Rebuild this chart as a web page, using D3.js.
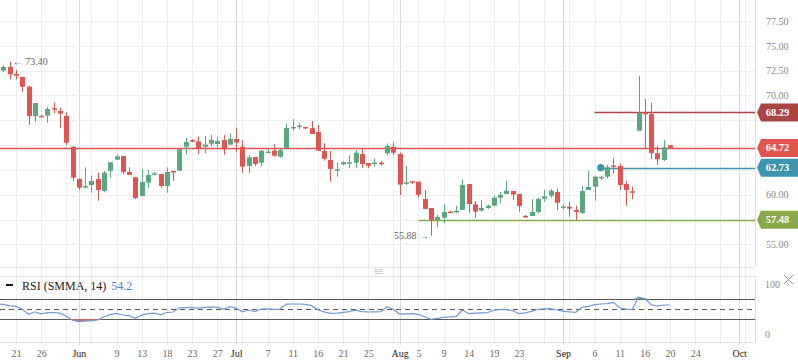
<!DOCTYPE html>
<html>
<head>
<meta charset="utf-8">
<script src="https://cdn.jsdelivr.net/npm/d3@7"></script>
<style>
  body { margin: 0; background: #fff; }
  svg { display: block; font-family: "Liberation Serif", serif; }
</style>
</head>
<body>
<svg id="chart" width="798" height="363"></svg>
<script>
// trading slots (2019), Sunday sessions included
var dates = [
  "05-17","05-19","05-20","05-21","05-22","05-23","05-24","05-26","05-27","05-28","05-29","05-30","05-31",
  "06-02","06-03","06-04","06-05","06-06","06-07","06-09","06-10","06-11","06-12","06-13","06-14","06-16","06-17","06-18","06-19","06-20","06-21","06-23","06-24","06-25","06-26","06-27","06-28","06-30",
  "07-01","07-02","07-03","07-04","07-05","07-07","07-08","07-09","07-10","07-11","07-12","07-14","07-15","07-16","07-17","07-18","07-19","07-21","07-22","07-23","07-24","07-25","07-26","07-29","07-30","07-31",
  "08-01","08-02","08-04","08-05","08-06","08-07","08-08","08-09","08-11","08-12","08-13","08-14","08-15","08-16","08-18","08-19","08-20","08-21","08-22","08-23","08-25","08-26","08-27","08-28","08-29","08-30",
  "09-01","09-02","09-03","09-04","09-05","09-06","09-08","09-09","09-10","09-11","09-12","09-13","09-15","09-16","09-17","09-18","09-19","09-20"
];
// empty slots to the right of the last candle
var futureDates = ["09-21","09-22","09-23","09-24","09-25","09-26","09-27","09-28","09-29","09-30","10-01","10-02","10-03"];

var opens = [
  72.74,72.5,72.87,72.16,71.86,70.88,67.93,67.95,67.96,68.72,68.44,67.93,64.84,
  61.59,60.8,60.98,61.59,60.38,62.42,63.53,63.9,62.3,61.76,59.88,61.22,62.1,62.1,60.88,62.4,62.42,64.84,65.5,65.38,64.84,65.14,65.11,65.52,65.05,
  65.62,64.84,62.9,63.8,63.23,64.3,64.44,63.83,64.71,66.83,66.9,66.83,66.7,66.32,64.41,63.5,62.5,63.07,63.2,63.23,64.1,63.2,63.2,63.23,64.18,64.84,
  64.1,61.15,61.36,61.32,59.57,58.67,57.46,57.7,58.3,58.33,58.47,61.08,59.04,58.4,58.67,58.9,59.7,60.08,60.38,60.08,57.87,57.86,58.27,59.6,59.91,60.28,
  58.8,58.8,58.47,58.17,60.48,60.81,61.65,61.82,62.95,62.9,61.08,60.35,66.45,68.3,68.13,64.18,63.5,64.99
];
var highs = [
  72.9,73.07,73.40,72.57,71.9,70.98,69.24,68.05,68.87,69.3,68.77,68.3,64.9,
  61.66,62.77,61.92,62.22,62.4,63.27,64.07,63.9,62.77,61.76,62.57,62.5,62.3,62.1,62.77,62.4,64.58,65.72,65.6,65.85,65.92,66.05,65.85,66.0,66.15,
  66.75,65.49,64.0,63.8,64.5,64.6,65.1,64.67,67.13,67.6,67.2,66.83,67.43,67.03,65.18,64.41,63.27,63.37,63.97,64.5,64.67,63.2,63.67,63.4,65.18,65.25,
  64.24,62.9,61.36,61.32,60.48,58.67,57.96,59.04,58.4,58.87,61.56,61.08,59.37,59.44,59.0,59.9,60.3,61.42,60.38,60.08,57.97,59.57,59.7,60.48,60.58,60.58,
  59.05,59.3,58.9,60.88,62.4,61.88,61.9,63.0,63.67,63.17,61.42,60.81,71.96,69.65,69.27,64.91,65.52,64.99
];
var lows = [
  72.1,72.33,71.63,71.63,70.38,67.03,67.36,67.85,67.25,68.2,66.7,65.01,61.39,
  60.48,60.65,60.21,59.4,60.25,61.72,63.53,62.06,62.0,59.57,59.8,60.71,61.95,60.7,60.21,61.4,62.42,64.08,65.3,64.08,64.18,64.9,64.79,64.04,65.05,
  64.28,62.22,62.16,62.9,62.9,64.2,63.83,63.73,64.71,66.45,66.6,66.6,66.12,64.44,63.43,61.32,61.82,62.97,62.67,62.67,62.67,62.67,62.83,62.95,64.0,64.0,
  59.98,60.98,61.08,59.75,58.57,55.88,56.72,57.13,58.2,58.13,58.47,58.2,57.7,58.3,58.57,58.8,59.14,60.08,59.47,58.3,57.67,57.86,58.1,59.3,59.7,58.47,
  58.5,57.8,57.45,58.07,60.48,59.4,61.5,61.65,62.17,60.48,58.87,59.54,66.45,64.68,63.57,62.99,63.4,64.6
];
var closes = [
  72.24,72.87,72.13,71.99,70.88,67.93,69.24,67.9,68.64,68.66,68.17,65.24,61.72,
  60.71,60.87,61.39,60.48,62.22,63.27,63.87,62.3,62.0,59.68,61.29,61.99,62.15,60.88,62.3,62.23,64.58,65.32,65.4,64.68,65.05,65.52,65.42,64.58,65.62,
  65.25,62.83,63.77,63.1,64.44,64.35,63.93,64.5,66.72,66.83,66.97,66.77,66.12,64.44,63.63,62.6,62.57,63.27,63.27,64.24,63.1,62.93,63.25,63.07,64.91,64.24,
  61.02,61.25,61.26,60.0,58.57,57.46,57.76,58.27,58.25,58.37,60.98,59.07,58.3,58.67,58.9,59.7,59.98,60.41,60.01,58.87,57.74,58.27,59.57,59.84,60.41,59.2,
  58.83,58.6,58.27,60.38,60.78,61.82,61.8,62.77,62.85,60.98,60.48,60.21,68.27,68.1,64.18,63.57,64.78,64.72
];
var rsi = [
  61,60,57,56,50,40,45,41,43.5,43.6,42.3,36,28,
  25.3,26.5,27.5,28.6,35,39.5,42,38.6,37,32,38.5,41.5,42.3,39,44,44.6,53,53.3,53.3,52.3,54,55,54,50.5,55.3,
  52.5,45,48.6,45.3,50.5,51,50,50.5,60.5,60.6,60.6,59.7,57.3,49,45,42,42.5,44,45.2,48.3,45.5,44.6,45,45.3,55,50,
  40.5,41,41.3,39.5,35,30,32,34,34.8,36,48.6,41.3,42.2,42.8,43.5,48,49.8,49.3,47,41.3,42.8,46,50,51,51.5,48.6,
  46.5,45,44,54,56,59.5,60.6,61.5,63.8,53,50.3,50,74,71.5,59,56.3,58.6,58.6
];
var rsiLast = "54.2";

var priceTicks = [55, 57.5, 60, 62.5, 65, 67.5, 70, 72.5, 75, 77.5];
var rsiTicks = [0, 100];
var rsiBands = [30, 50, 70];
var tickDates = ["05-21","05-26","06-02","06-09","06-13","06-18","06-23","06-27","07-01","07-07","07-11","07-16","07-21","07-25",
  "08-01","08-05","08-09","08-14","08-19","08-23","09-01","09-06","09-11","09-16","09-20","09-24","10-01"];
var tickLabels = ["21","26","Jun","9","13","18","23","27","Jul","7","11","16","21","25",
  "Aug","5","9","14","19","23","Sep","6","11","16","20","24","Oct"];
var monthStarts = ["06-02","07-01","08-01","09-01","10-01"];

// horizontal levels and where they start (null = whole width)
var levelValues = [68.29, 64.72, 62.73, 57.48];
var levelStarts = ["09-06", null, "09-08", "08-05"];
var levelColors = ["#a94542", "#e25450", "#3f95ae", "#8aa94a"];
var highNote = { date: "05-20", value: 73.40 };
var lowNote = { date: "08-07", value: 55.88 };

var slots = dates.concat(futureDates);
var W = 755, mainBottom = 267, rsiTop = 276, rsiBottom = 342, axisY = 345;

var x = d3.scalePoint().domain(slots).range([-2.87, 751.75]);
var y = d3.scaleLinear().domain([55, 77.5]).range([244.4, 21]);
var yr = d3.scaleLinear().domain([0, 100]).range([334.3, 284.3]);

var svg = d3.select('svg#chart');
var defs = svg.append('defs');
defs.append('clipPath').attr('id', 'clipMain').append('rect')
  .attr('x', 0).attr('y', 0).attr('width', W).attr('height', mainBottom);
defs.append('clipPath').attr('id', 'clipRsi').append('rect')
  .attr('x', 0).attr('y', rsiTop).attr('width', W).attr('height', rsiBottom - rsiTop);

var gridIdx = slots.filter((d, i) => i % 4 == 3);

// vertical grid
svg.append('g').selectAll('line').data(gridIdx).enter().append('line')
  .attr('x1', d => Math.round(x(d)) + 0.5).attr('x2', d => Math.round(x(d)) + 0.5)
  .attr('y1', 0).attr('y2', axisY)
  .attr('stroke', '#eceef1').attr('stroke-width', 1);
svg.append('g').selectAll('line').data(monthStarts).enter().append('line')
  .attr('x1', d => Math.round(x(d)) + 0.5).attr('x2', d => Math.round(x(d)) + 0.5)
  .attr('y1', 0).attr('y2', axisY)
  .attr('stroke', '#d9dbde').attr('stroke-width', 1);

// horizontal grid
svg.append('g').selectAll('line').data(priceTicks).enter().append('line')
  .attr('x1', 0).attr('x2', W)
  .attr('y1', d => Math.round(y(d)) + 0.5).attr('y2', d => Math.round(y(d)) + 0.5)
  .attr('stroke', '#eceef1');

// panel borders
[mainBottom, rsiTop, rsiBottom].forEach(function(v) {
  svg.append('line').attr('x1', 0).attr('x2', W).attr('y1', v + 0.5).attr('y2', v + 0.5)
    .attr('stroke', '#e0e2e5');
});
svg.append('line').attr('x1', W + 0.5).attr('x2', W + 0.5).attr('y1', 0).attr('y2', mainBottom)
  .attr('stroke', '#dcdee1');
svg.append('line').attr('x1', W + 0.5).attr('x2', W + 0.5).attr('y1', rsiTop).attr('y2', rsiBottom)
  .attr('stroke', '#dcdee1');

// splitter handle
[269, 271, 273].forEach(function(v) {
  svg.append('line').attr('x1', 374).attr('x2', 383).attr('y1', v + 0.5).attr('y2', v + 0.5)
    .attr('stroke', '#cfd1d4');
});

var main = svg.append('g').attr('clip-path', 'url(#clipMain)');

// level lines
levelValues.forEach(function(v, i) {
  var x0 = levelStarts[i] ? x(levelStarts[i]) : 0;
  main.append('line')
    .attr('x1', x0).attr('x2', W)
    .attr('y1', Math.round(y(v)) + 0.5).attr('y2', Math.round(y(v)) + 0.5)
    .attr('stroke', levelColors[i]).attr('stroke-width', 1.3);
});
main.append('circle')
  .attr('cx', x(levelStarts[2])).attr('cy', y(levelValues[2])).attr('r', 3.6)
  .attr('fill', '#3f95ae');

// candles
var candles = dates.map((d, i) => ({ date: d, o: opens[i], h: highs[i], l: lows[i], c: closes[i] }));
function candleColor(d) {
  if (d.c > d.o) return '#5aa87f';
  if (d.c < d.o) return '#e2544f';
  return '#8c8c8c';
}
var gs = main.selectAll('g.candle').data(candles).enter().append('g').attr('class', 'candle');
gs.append('line')
  .attr('x1', d => Math.round(x(d.date)) + 0.5).attr('x2', d => Math.round(x(d.date)) + 0.5)
  .attr('y1', d => y(d.h)).attr('y2', d => y(d.l))
  .attr('stroke', candleColor).attr('stroke-width', 1);
gs.append('rect')
  .attr('x', d => Math.round(x(d.date)) - 2)
  .attr('y', d => Math.min(y(d.o), y(d.c)))
  .attr('width', 5)
  .attr('height', d => Math.max(1.5, Math.abs(y(d.o) - y(d.c))))
  .attr('fill', candleColor);

// high / low notes
main.append('text')
  .attr('x', x(highNote.date) + 3).attr('y', y(highNote.value) + 3.5)
  .attr('font-size', 10).attr('fill', '#666')
  .text('\u2190 ' + highNote.value.toFixed(2));
main.append('text')
  .attr('x', x(lowNote.date) - 2).attr('y', y(lowNote.value) + 3.5)
  .attr('text-anchor', 'end')
  .attr('font-size', 10).attr('fill', '#666')
  .text(lowNote.value.toFixed(2) + ' \u2192');

// price axis: ticks hidden behind a level tag are left out
var visibleTicks = priceTicks.filter(t => levelValues.every(v => Math.abs(y(t) - y(v)) > 10));
var pAxis = svg.append('g').attr('transform', 'translate(' + W + ',0)')
  .call(d3.axisRight(y).tickValues(visibleTicks).tickSize(0).tickPadding(11).tickFormat(d3.format('.2f')));
pAxis.select('.domain').remove();
pAxis.selectAll('text').attr('font-family', '"Liberation Serif", serif').attr('font-size', 10).attr('fill', '#8a8a8a');

// level tags on the axis
levelValues.forEach(function(v, i) {
  var cy = y(v);
  svg.append('path')
    .attr('d', 'M' + (W + 2) + ',' + cy + 'L' + (W + 6) + ',' + (cy - 9) + 'L798,' + (cy - 9) +
      'L798,' + (cy + 9) + 'L' + (W + 6) + ',' + (cy + 9) + 'Z')
    .attr('fill', levelColors[i]);
  svg.append('text')
    .attr('x', 777.5).attr('y', cy + 3.6)
    .attr('text-anchor', 'middle')
    .attr('font-size', 10.5).attr('font-weight', 'bold').attr('fill', '#fff')
    .text(v.toFixed(2));
});

// RSI panel
var rsiG = svg.append('g').attr('clip-path', 'url(#clipRsi)');
rsiBands.forEach(function(v) {
  rsiG.append('line').attr('x1', 0).attr('x2', W)
    .attr('y1', Math.round(yr(v)) + 0.5).attr('y2', Math.round(yr(v)) + 0.5)
    .attr('stroke', '#5a5a5a').attr('stroke-width', 1)
    .attr('stroke-dasharray', v == 50 ? '5,4' : null);
});
var rsiPts = dates.map((d, i) => ({ date: d, v: rsi[i] }));
rsiG.append('path').datum(rsiPts)
  .attr('d', d3.area().x(d => x(d.date)).y0(yr(30)).y1(d => yr(Math.min(d.v, 30))))
  .attr('fill', '#e56b66');
rsiG.append('path').datum(rsiPts)
  .attr('d', d3.area().x(d => x(d.date)).y0(yr(70)).y1(d => yr(Math.max(d.v, 70))))
  .attr('fill', '#5fb27f');
rsiG.append('path').datum(rsiPts)
  .attr('d', d3.line().x(d => x(d.date)).y(d => yr(d.v)))
  .attr('fill', 'none').attr('stroke', '#6f9bd2').attr('stroke-width', 1.2);

var rAxis = svg.append('g').attr('transform', 'translate(' + W + ',0)')
  .call(d3.axisRight(yr).tickValues(rsiTicks).tickSize(0).tickPadding(10));
rAxis.select('.domain').remove();
rAxis.selectAll('text').attr('font-family', '"Liberation Serif", serif').attr('font-size', 10).attr('fill', '#8a8a8a');

// close icon
svg.append('path').attr('d', 'M784,275L793,284M793,275L784,284')
  .attr('stroke', '#999').attr('stroke-width', 1).attr('fill', 'none');

// legend
svg.append('rect').attr('x', 6).attr('y', 284).attr('width', 7).attr('height', 2).attr('fill', '#111');
var leg = svg.append('text').attr('x', 22).attr('y', 290).attr('font-size', 12).attr('fill', '#222');
leg.append('tspan').text('RSI (SMMA, 14) ');
leg.append('tspan').attr('fill', '#4b7fc4').attr('dx', 2).text(rsiLast);

// time axis
var xAxis = svg.append('g').attr('transform', 'translate(0,' + axisY + ')')
  .call(d3.axisBottom(x).tickValues(tickDates).tickSize(0).tickPadding(5)
    .tickFormat((d, i) => tickLabels[i]));
xAxis.select('.domain').remove();
xAxis.selectAll('text')
  .attr('font-family', '"Liberation Serif", serif').attr('font-size', 10)
  .attr('fill', (d, i) => monthStarts.indexOf(d) >= 0 ? '#222' : '#6a6a6a');
</script>
</body>
</html>
